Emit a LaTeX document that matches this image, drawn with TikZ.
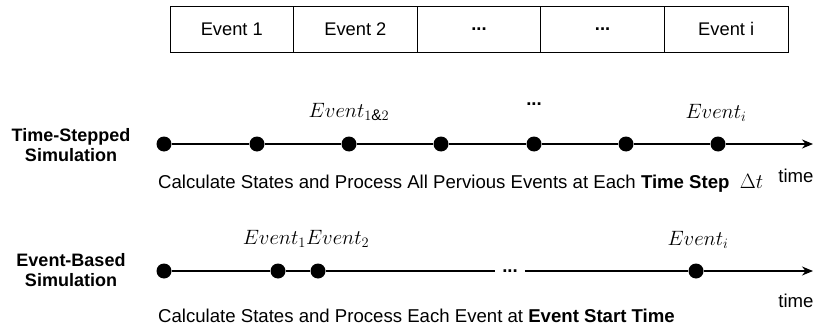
\documentclass[tikz,border=0pt]{standalone}
\usepackage{fontspec}
\setmainfont{Liberation Sans}
\usetikzlibrary{arrows.meta}
\begin{document}
\begin{tikzpicture}[x=1pt,y=-1pt,
  txt/.style={font=\fontsize{18.6}{21}\selectfont, inner sep=0pt},
  mth/.style={font=\fontsize{22}{25}\selectfont, inner sep=0pt},
  evbox/.style={draw, line width=0.9pt, minimum width=123.6pt, minimum height=46pt, font=\fontsize{18.3}{21}\selectfont, inner sep=0pt},
  dot/.style={circle, fill=black, minimum size=15pt, inner sep=0pt},
  tl/.style={line width=1.3pt},
  tlarrow/.style={line width=1.3pt, -{Stealth[length=11pt,width=9pt]}},
  lbl/.style={font=\fontsize{18}{20.5}\selectfont\bfseries, align=center, inner sep=0pt}
]
\useasboundingbox (0,0) rectangle (814,329);
% top boxes
\node[evbox] (b1) at (231.8,29) {Event 1};
\node[evbox] (b2) at (355.4,29) {Event 2};
\node[evbox] (b3) at (479.0,29) {\textbf{...}};
\node[evbox] (b4) at (602.6,29) {\textbf{...}};
\node[evbox] (b5) at (726.2,29) {Event i};

% time-stepped
\node[lbl] (lab1) at (71,145) {Time-Stepped\\Simulation};
\node[dot] (d1) at (164,144) {};
\node[dot] (d2) at (257,144) {};
\node[dot] (d3) at (349,144) {};
\node[dot] (d4) at (441,144) {};
\node[dot] (d5) at (534,144) {};
\node[dot] (d6) at (626,144) {};
\node[dot] (d7) at (718,144) {};
\coordinate (end1) at (813,144);
\draw[tl] (d1) -- (d2) -- (d3) -- (d4) -- (d5) -- (d6) -- (d7);
\draw[tlarrow] (d7) -- (end1);
\node[mth] (m1) at (349,112) {$Event_{1\&2}$};
\node[txt] (m2) at (534,104) {\textbf{...}};
\node[mth] (m3) at (716,113) {$Event_i$};
\node[txt] (t1) at (796,176) {time};
\node[txt, anchor=base west] (c1) at (158,188) {Calculate States and Process All Pervious Events at Each \textbf{Time Step}\ \ {\fontsize{22}{25}\selectfont$\Delta t$}};

% event-based
\node[lbl] (lab2) at (71,270) {Event-Based\\Simulation};
\node[dot] (e1) at (164,271) {};
\node[dot] (e2) at (278,271) {};
\node[dot] (e3) at (318,271) {};
\node[txt, inner xsep=7pt] (gap) at (510,271) {\textbf{...}};
\node[dot] (e4) at (696,271) {};
\coordinate (end2) at (813,271);
\draw[tl] (e1) -- (e2) -- (e3) -- (gap) -- (e4);
\draw[tlarrow] (e4) -- (end2);
\node[mth] (n1) at (306,239) {$Event_1Event_2$};
\node[mth] (n2) at (698,240) {$Event_i$};
\node[txt] (t2) at (796,301) {time};
\node[txt, anchor=base west] (c2) at (158,322) {Calculate States and Process Each Event at \textbf{Event Start Time}};
\end{tikzpicture}
\end{document}
